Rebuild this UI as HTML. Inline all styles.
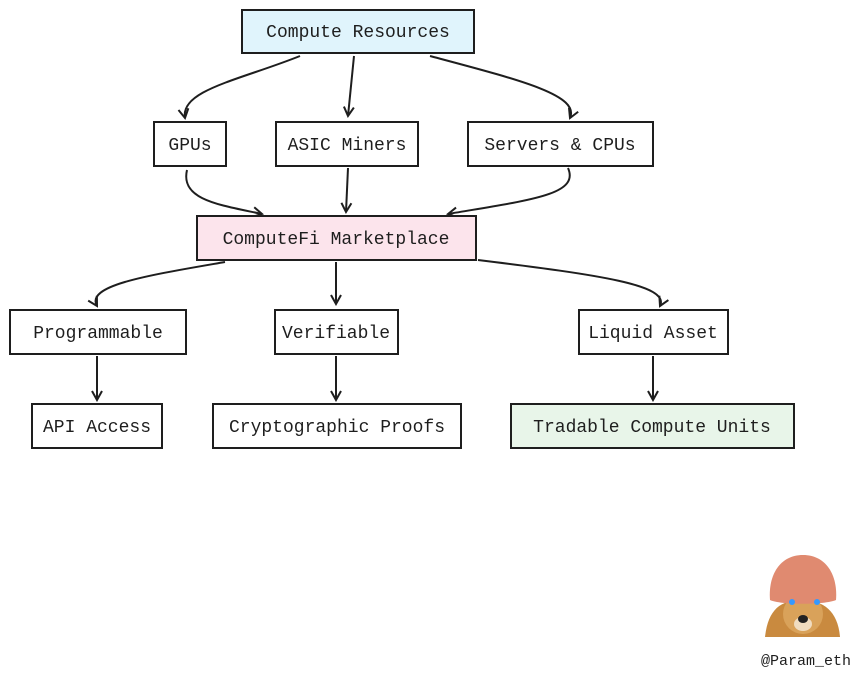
<!DOCTYPE html>
<html><head><meta charset="utf-8"><style>
html,body{margin:0;padding:0;background:#fff;}
svg text{font-family:"Liberation Mono",monospace;font-size:18px;fill:#1e1e1e;}
</style></head><body>
<svg width="868" height="681" viewBox="0 0 868 681" xmlns="http://www.w3.org/2000/svg">
<defs><marker id="a" markerWidth="12" markerHeight="12" refX="10" refY="6" orient="auto" markerUnits="userSpaceOnUse"><path d="M1,1 L10,6 L1,11" fill="none" stroke="#1e1e1e" stroke-width="2"/></marker></defs>
<g fill="none" stroke="#1e1e1e" stroke-width="2" marker-end="url(#a)">
<path d="M300,56 C240,80 180,90 185,118"/>
<path d="M354,56 L348,116"/>
<path d="M430,56 C520,80 580,95 570,118"/>
<path d="M187,170 C180,200 220,205 262,214"/>
<path d="M348,168 L346,212"/>
<path d="M568,168 C580,195 530,200 448,214"/>
<path d="M225,262 C150,275 85,285 97,306"/>
<path d="M336,262 L336,304"/>
<path d="M478,260 C600,275 670,285 660,306"/>
<path d="M97,356 L97,400"/>
<path d="M336,356 L336,400"/>
<path d="M653,356 L653,400"/>
</g>
<g stroke="#1e1e1e" stroke-width="2">
<rect x="242" y="10" width="232" height="43" fill="#e0f4fc"/>
<rect x="154" y="122" width="72" height="44" fill="#fff"/>
<rect x="276" y="122" width="142" height="44" fill="#fff"/>
<rect x="468" y="122" width="185" height="44" fill="#fff"/>
<rect x="197" y="216" width="279" height="44" fill="#fce4ec"/>
<rect x="10" y="310" width="176" height="44" fill="#fff"/>
<rect x="275" y="310" width="123" height="44" fill="#fff"/>
<rect x="579" y="310" width="149" height="44" fill="#fff"/>
<rect x="32" y="404" width="130" height="44" fill="#fff"/>
<rect x="213" y="404" width="248" height="44" fill="#fff"/>
<rect x="511" y="404" width="283" height="44" fill="#e8f5e9"/>
</g>
<g text-anchor="middle">
<text x="358" y="37">Compute Resources</text>
<text x="190" y="150">GPUs</text>
<text x="347" y="150">ASIC Miners</text>
<text x="560" y="150">Servers &amp; CPUs</text>
<text x="336" y="244">ComputeFi Marketplace</text>
<text x="98" y="338">Programmable</text>
<text x="336" y="338">Verifiable</text>
<text x="653" y="338">Liquid Asset</text>
<text x="97" y="432">API Access</text>
<text x="337" y="432">Cryptographic Proofs</text>
<text x="652" y="432">Tradable Compute Units</text>
</g>
<g>
<path d="M765,637 C768,610 780,600 802,600 C824,600 838,612 840,637 Z" fill="#c98a3f"/>
<ellipse cx="803" cy="614" rx="20" ry="20" fill="#d9a25a"/>
<ellipse cx="803" cy="624" rx="9" ry="7" fill="#f0dcc0"/>
<ellipse cx="803" cy="619" rx="5" ry="4" fill="#222"/>
<path d="M770,600 C768,575 780,555 803,555 C826,555 838,575 836,600 C825,605 780,605 770,600 Z" fill="#e08a70"/>
<circle cx="792" cy="602" r="3" fill="#39f"/>
<circle cx="817" cy="602" r="3" fill="#39f"/>
<text x="806" y="665" text-anchor="middle" style="font-size:15px">@Param_eth</text>
</g>
</svg>
</body></html>
